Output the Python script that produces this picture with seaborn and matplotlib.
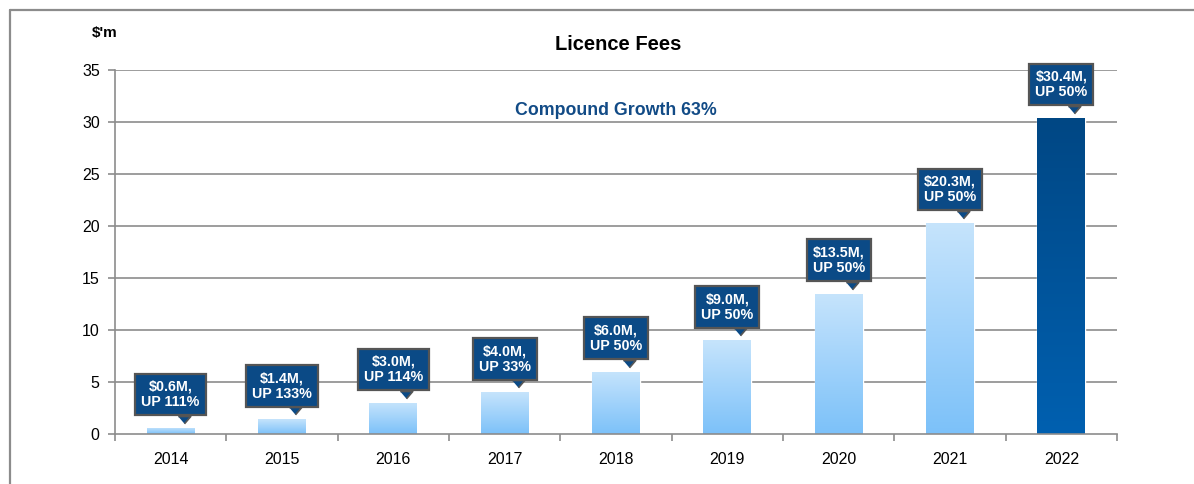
import numpy as np
import pandas as pd
import matplotlib
matplotlib.use("Agg")
import matplotlib.pyplot as plt
import matplotlib.transforms as mtransforms
from matplotlib.lines import Line2D
from matplotlib.colors import LinearSegmentedColormap
import seaborn as sns

# data
years = ["2014", "2015", "2016", "2017", "2018", "2019", "2020", "2021", "2022"]
fees = [0.6, 1.4, 3.0, 4.0, 6.0, 9.0, 13.5, 20.3, 30.4]
growth = [111, 133, 114, 33, 50, 50, 50, 50, 50]
y_ticks = [0, 5, 10, 15, 20, 25, 30, 35]

GRID = "#8c8c8c"
NAVY = "#0b4a86"

sns.set_theme(style="white")
plt.rcParams["font.family"] = ["Liberation Sans", "DejaVu Sans"]

df = pd.DataFrame({"year": years, "fees": fees})

fig = plt.figure(figsize=(11.94, 4.84), dpi=100)
ax = fig.add_axes([115 / 1194, 50 / 484, 1002 / 1194, 364 / 484])

sns.barplot(data=df, x="year", y="fees", color="#a8d4fa", width=0.43,
            saturation=1, ax=ax, zorder=2)

# gradient fill, each bar on its own
light = LinearSegmentedColormap.from_list("light", ["#7cc1f9", "#c6e4fc"])
dark = LinearSegmentedColormap.from_list("dark", ["#0060b0", "#004784"])
grad = np.linspace(0, 1, 256).reshape(-1, 1)
for i, p in enumerate(ax.patches):
    x0, w, h = p.get_x(), p.get_width(), p.get_height()
    cmap = dark if i == len(fees) - 1 else light
    im = ax.imshow(grad, cmap=cmap, origin="lower", aspect="auto",
                   extent=[x0, x0 + w, 0, h], zorder=3)
    im.set_clip_path(p)
    p.set_facecolor("none")

ax.set_xlim(-0.5, len(years) - 0.5)
ax.set_ylim(0, 35)
ax.set_yticks(y_ticks)
ax.set_xlabel("")
ax.set_ylabel("")

# grid + spines
for t in y_ticks[1:]:
    ax.axhline(t, color=GRID, lw=1.2, zorder=1)
for s in ["top", "right"]:
    ax.spines[s].set_visible(False)
for s in ["left", "bottom"]:
    ax.spines[s].set_color(GRID)
    ax.spines[s].set_linewidth(1.2)
    ax.spines[s].set_zorder(4)

ax.set_xticks(np.arange(-0.5, len(years)), minor=True)
ax.tick_params(axis="x", which="major", length=0, labelsize=11.5, pad=13,
               labelcolor="black")
ax.tick_params(axis="x", which="minor", length=5, width=1.2, color=GRID,
               direction="out")
ax.tick_params(axis="y", length=5, width=1.2, color=GRID, direction="out",
               labelsize=11.5, pad=6, labelcolor="black")
ax.tick_params(left=True, bottom=True, which="both")

# callout labels
tri = [(-6, 0), (6, 0), (0, -7)]
for i, (v, g) in enumerate(zip(fees, growth)):
    ax.annotate(f"${v:.1f}M,\nUP {g}%", xy=(i, v), xytext=(0, 18.5),
                textcoords="offset pixels", ha="center", va="bottom",
                color="white", fontsize=10.3, fontweight="bold",
                linespacing=1.15, zorder=6,
                bbox=dict(boxstyle="square,pad=0.42", fc=NAVY, ec="#555555",
                          lw=1.6))
    tr = mtransforms.offset_copy(ax.transData, fig=fig, x=13, y=12,
                                 units="dots")
    ax.plot(i, v, marker=tri, ms=10.5, mfc=NAVY, mec="#555555", mew=1.2,
            transform=tr, zorder=7, clip_on=False)

ax.text(0.5, 0.89, "Compound Growth 63%", transform=ax.transAxes,
        ha="center", va="center", fontsize=12.8, fontweight="bold",
        color="#124b86")
ax.text(0.502, 1.07, "Licence Fees", transform=ax.transAxes, ha="center",
        va="center", fontsize=14.5, fontweight="bold", color="black")
fig.text(105 / 1194, 1 - 33 / 484, "$'m", ha="center", va="center",
         fontsize=11, fontweight="bold", color="black")

# outer frame, left and top only show
fig.add_artist(Line2D([9.5 / 1194, 9.5 / 1194], [0, 1 - 9.5 / 484],
                      color=GRID, lw=1.6, transform=fig.transFigure))
fig.add_artist(Line2D([9.5 / 1194, 1], [1 - 9.5 / 484, 1 - 9.5 / 484],
                      color=GRID, lw=1.6, transform=fig.transFigure))

fig.savefig("out.png", dpi=100)
